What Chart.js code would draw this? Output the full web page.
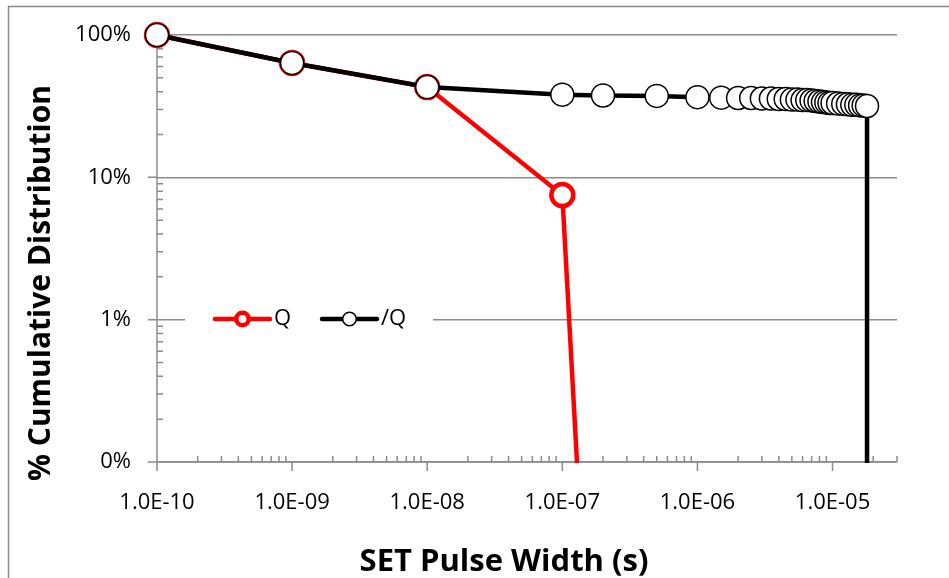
<!DOCTYPE html>
<html>
<head>
<meta charset="utf-8">
<title>SET Pulse Width Distribution</title>
<script src="https://cdn.jsdelivr.net/npm/chart.js@4.4.0/dist/chart.umd.min.js"></script>
<style>
  html, body { margin: 0; padding: 0; background: #fff; }
  #wrap { width: 949px; height: 578px; }
</style>
</head>
<body>
<div id="wrap"><canvas id="pulseChart" width="949" height="578"></canvas></div>
<script>
// ── Data (pulse width in s, cumulative distribution in %) ──
const widthsQ = [1e-10, 1e-9, 1e-8, 1e-7, 1.3e-7];
const cumQ = [100, 63.6, 43.1, 7.5, 0.08];

const widthsQBar = [1e-10, 1e-9, 1e-8, 1e-7, 2e-7, 5e-7, 1e-6, 1.5e-6, 2e-6, 2.5e-6,
    3e-6, 3.5e-6, 4e-6, 4.5e-6, 5e-6, 5.5e-6, 6e-6, 6.5e-6, 7e-6, 7.5e-6,
    8e-6, 8.5e-6, 9e-6, 9.5e-6, 1e-5, 1.1e-5, 1.2e-5, 1.3e-5, 1.4e-5, 1.5e-5,
    1.6e-5, 1.7e-5, 1.8e-5, 1.8e-5];
const cumQBar = [100, 63.6, 43.1, 38.1, 37.6, 37.3, 36.6, 36.3, 36.1, 36.1,
    35.8, 35.8, 35.5, 35.5, 35.2, 35.2, 34.9, 34.9, 34.7, 34.4,
    34.1, 33.8, 33.6, 33.3, 33.3, 33.0, 32.8, 32.6, 32.3, 32.3,
    32.0, 32.0, 31.7, 0.05];

const xTicks = [1e-10, 1e-9, 1e-8, 1e-7, 1e-6, 1e-5];
const yTicks = [0.1, 1, 10, 100];

const GRID = '#8c8c8c';
const FONT = "'Open Sans', sans-serif";

// 1.0E-09 style labels
function sciLabel(v) {
    const [m, e] = Number(v).toExponential(1).split('e');
    const n = parseInt(e);
    return m + 'E' + (n < 0 ? '-' : '+') + String(Math.abs(n)).padStart(2, '0');
}

// last point of each series is the drop-off, drawn without a marker
const hideLast = (r) => (c) => c.dataIndex === c.dataset.data.length - 1 ? 0 : r;

// keep the plot box fixed, labels may overhang
function noScalePadding(s) {
    s.paddingTop = 0;
    s.paddingBottom = 0;
    s.paddingLeft = 0;
    s.paddingRight = 0;
}

// ── Axis lines, tick marks, titles, legend ──
const excelLook = {
    id: 'excelLook',
    beforeDraw(chart) {
        const ctx = chart.ctx;
        ctx.save();
        ctx.strokeStyle = GRID;
        ctx.lineWidth = 1.5;
        ctx.strokeRect(8.5, 6.5, 1000, 700);
        ctx.restore();
    },
    beforeDatasetsDraw(chart) {
        const { ctx, chartArea: a, scales: { x, y } } = chart;
        ctx.save();
        ctx.strokeStyle = GRID;
        ctx.lineWidth = 1.5;
        ctx.beginPath();
        ctx.moveTo(a.left, a.top);
        ctx.lineTo(a.left, a.bottom);
        ctx.moveTo(a.left - 9, a.bottom);
        ctx.lineTo(a.right, a.bottom);
        for (let e = -10; e <= -5; e++) {
            for (let m = 1; m <= 9; m++) {
                const v = m * Math.pow(10, e);
                if (v > x.max * 1.0001) break;
                const px = x.getPixelForValue(v);
                if (m === 1) { ctx.moveTo(px, a.bottom); ctx.lineTo(px, a.bottom + 9); }
                else { ctx.moveTo(px, a.bottom); ctx.lineTo(px, a.bottom - 6); }
            }
        }
        for (let e = -1; e <= 2; e++) {
            for (let m = 1; m <= 9; m++) {
                const v = m * Math.pow(10, e);
                if (v > y.max * 1.0001) break;
                const py = y.getPixelForValue(v);
                if (m === 1) { ctx.moveTo(a.left - 9, py); ctx.lineTo(a.left, py); }
                else { ctx.moveTo(a.left, py); ctx.lineTo(a.left + 6, py); }
            }
        }
        ctx.stroke();
        ctx.restore();
    },
    afterDraw(chart) {
        const ctx = chart.ctx;
        ctx.save();
        ctx.fillStyle = '#000';
        ctx.textAlign = 'center';
        ctx.textBaseline = 'alphabetic';
        ctx.font = 'bold 31px ' + FONT;
        ctx.fillText('SET Pulse Width (s)', 504, 571);
        ctx.translate(50, 283);
        ctx.rotate(-Math.PI / 2);
        ctx.font = 'bold 30px ' + FONT;
        ctx.fillText('% Cumulative Distribution', 0, 0);
        ctx.restore();

        // in-plot legend
        ctx.save();
        ctx.fillStyle = '#fff';
        ctx.fillRect(185, 305, 248, 30);
        const ly = 319;
        const items = [{ ds: 0, x0: 215, r: 6.2 }, { ds: 1, x0: 322, r: 6.8 }];
        items.forEach(it => {
            const d = chart.data.datasets[it.ds];
            ctx.strokeStyle = d.borderColor;
            ctx.lineWidth = d.borderWidth;
            ctx.lineCap = 'round';
            ctx.beginPath();
            ctx.moveTo(it.x0, ly);
            ctx.lineTo(it.x0 + 55, ly);
            ctx.stroke();
            ctx.beginPath();
            ctx.arc(it.x0 + 27.5, ly, it.r, 0, Math.PI * 2);
            ctx.fillStyle = '#fff';
            ctx.fill();
            ctx.lineWidth = d.pointBorderWidth;
            ctx.stroke();
            ctx.fillStyle = '#000';
            ctx.font = '22px ' + FONT;
            ctx.textAlign = 'left';
            ctx.textBaseline = 'middle';
            ctx.fillText(d.label, it.x0 + 59, ly);
        });
        ctx.restore();
    }
};

new Chart(document.getElementById('pulseChart'), {
    type: 'line',
    data: {
        datasets: [{
            label: 'Q',
            data: widthsQ.map((w, i) => ({ x: w, y: cumQ[i] })),
            borderColor: '#ff0000',
            borderWidth: 4.5,
            pointBorderWidth: 4.5,
            pointRadius: hideLast(11),
            pointBackgroundColor: '#fff',
            pointBorderColor: '#ff0000',
            order: 2,
            clip: { left: 20, top: 20, right: 20, bottom: 1 }
        }, {
            label: '/Q',
            data: widthsQBar.map((w, i) => ({ x: w, y: cumQBar[i] })),
            borderColor: '#000',
            borderWidth: 4.5,
            pointBorderWidth: 1.5,
            pointRadius: hideLast(11.5),
            pointBackgroundColor: '#fff',
            pointBorderColor: '#000',
            order: 1,
            clip: { left: 20, top: 20, right: 20, bottom: 1 }
        }]
    },
    options: {
        responsive: false,
        animation: false,
        layout: { padding: { left: 0, top: 35, right: 52, bottom: 0 } },
        plugins: {
            legend: { display: false },
            tooltip: { enabled: false }
        },
        elements: { line: { tension: 0 } },
        scales: {
            x: {
                type: 'logarithmic',
                min: 1e-10,
                max: 3e-5,
                afterBuildTicks: (s) => { s.ticks = xTicks.map(v => ({ value: v })); },
                afterFit: (s) => { s.height = 116; noScalePadding(s); },
                grid: { display: false },
                border: { display: false },
                ticks: {
                    autoSkip: false,
                    maxRotation: 0,
                    padding: 20,
                    color: '#000',
                    font: { family: FONT, size: 22 },
                    callback: (v) => sciLabel(v)
                }
            },
            y: {
                type: 'logarithmic',
                min: 0.1,
                max: 100,
                afterBuildTicks: (s) => { s.ticks = yTicks.map(v => ({ value: v })); },
                afterFit: (s) => { s.width = 157; noScalePadding(s); },
                grid: { color: GRID, lineWidth: 1.5, drawTicks: false },
                border: { display: false },
                ticks: {
                    padding: 26,
                    color: '#000',
                    font: { family: FONT, size: 22 },
                    callback: (v) => Math.round(v) + '%'
                }
            }
        }
    },
    plugins: [excelLook]
});
</script>
</body>
</html>
